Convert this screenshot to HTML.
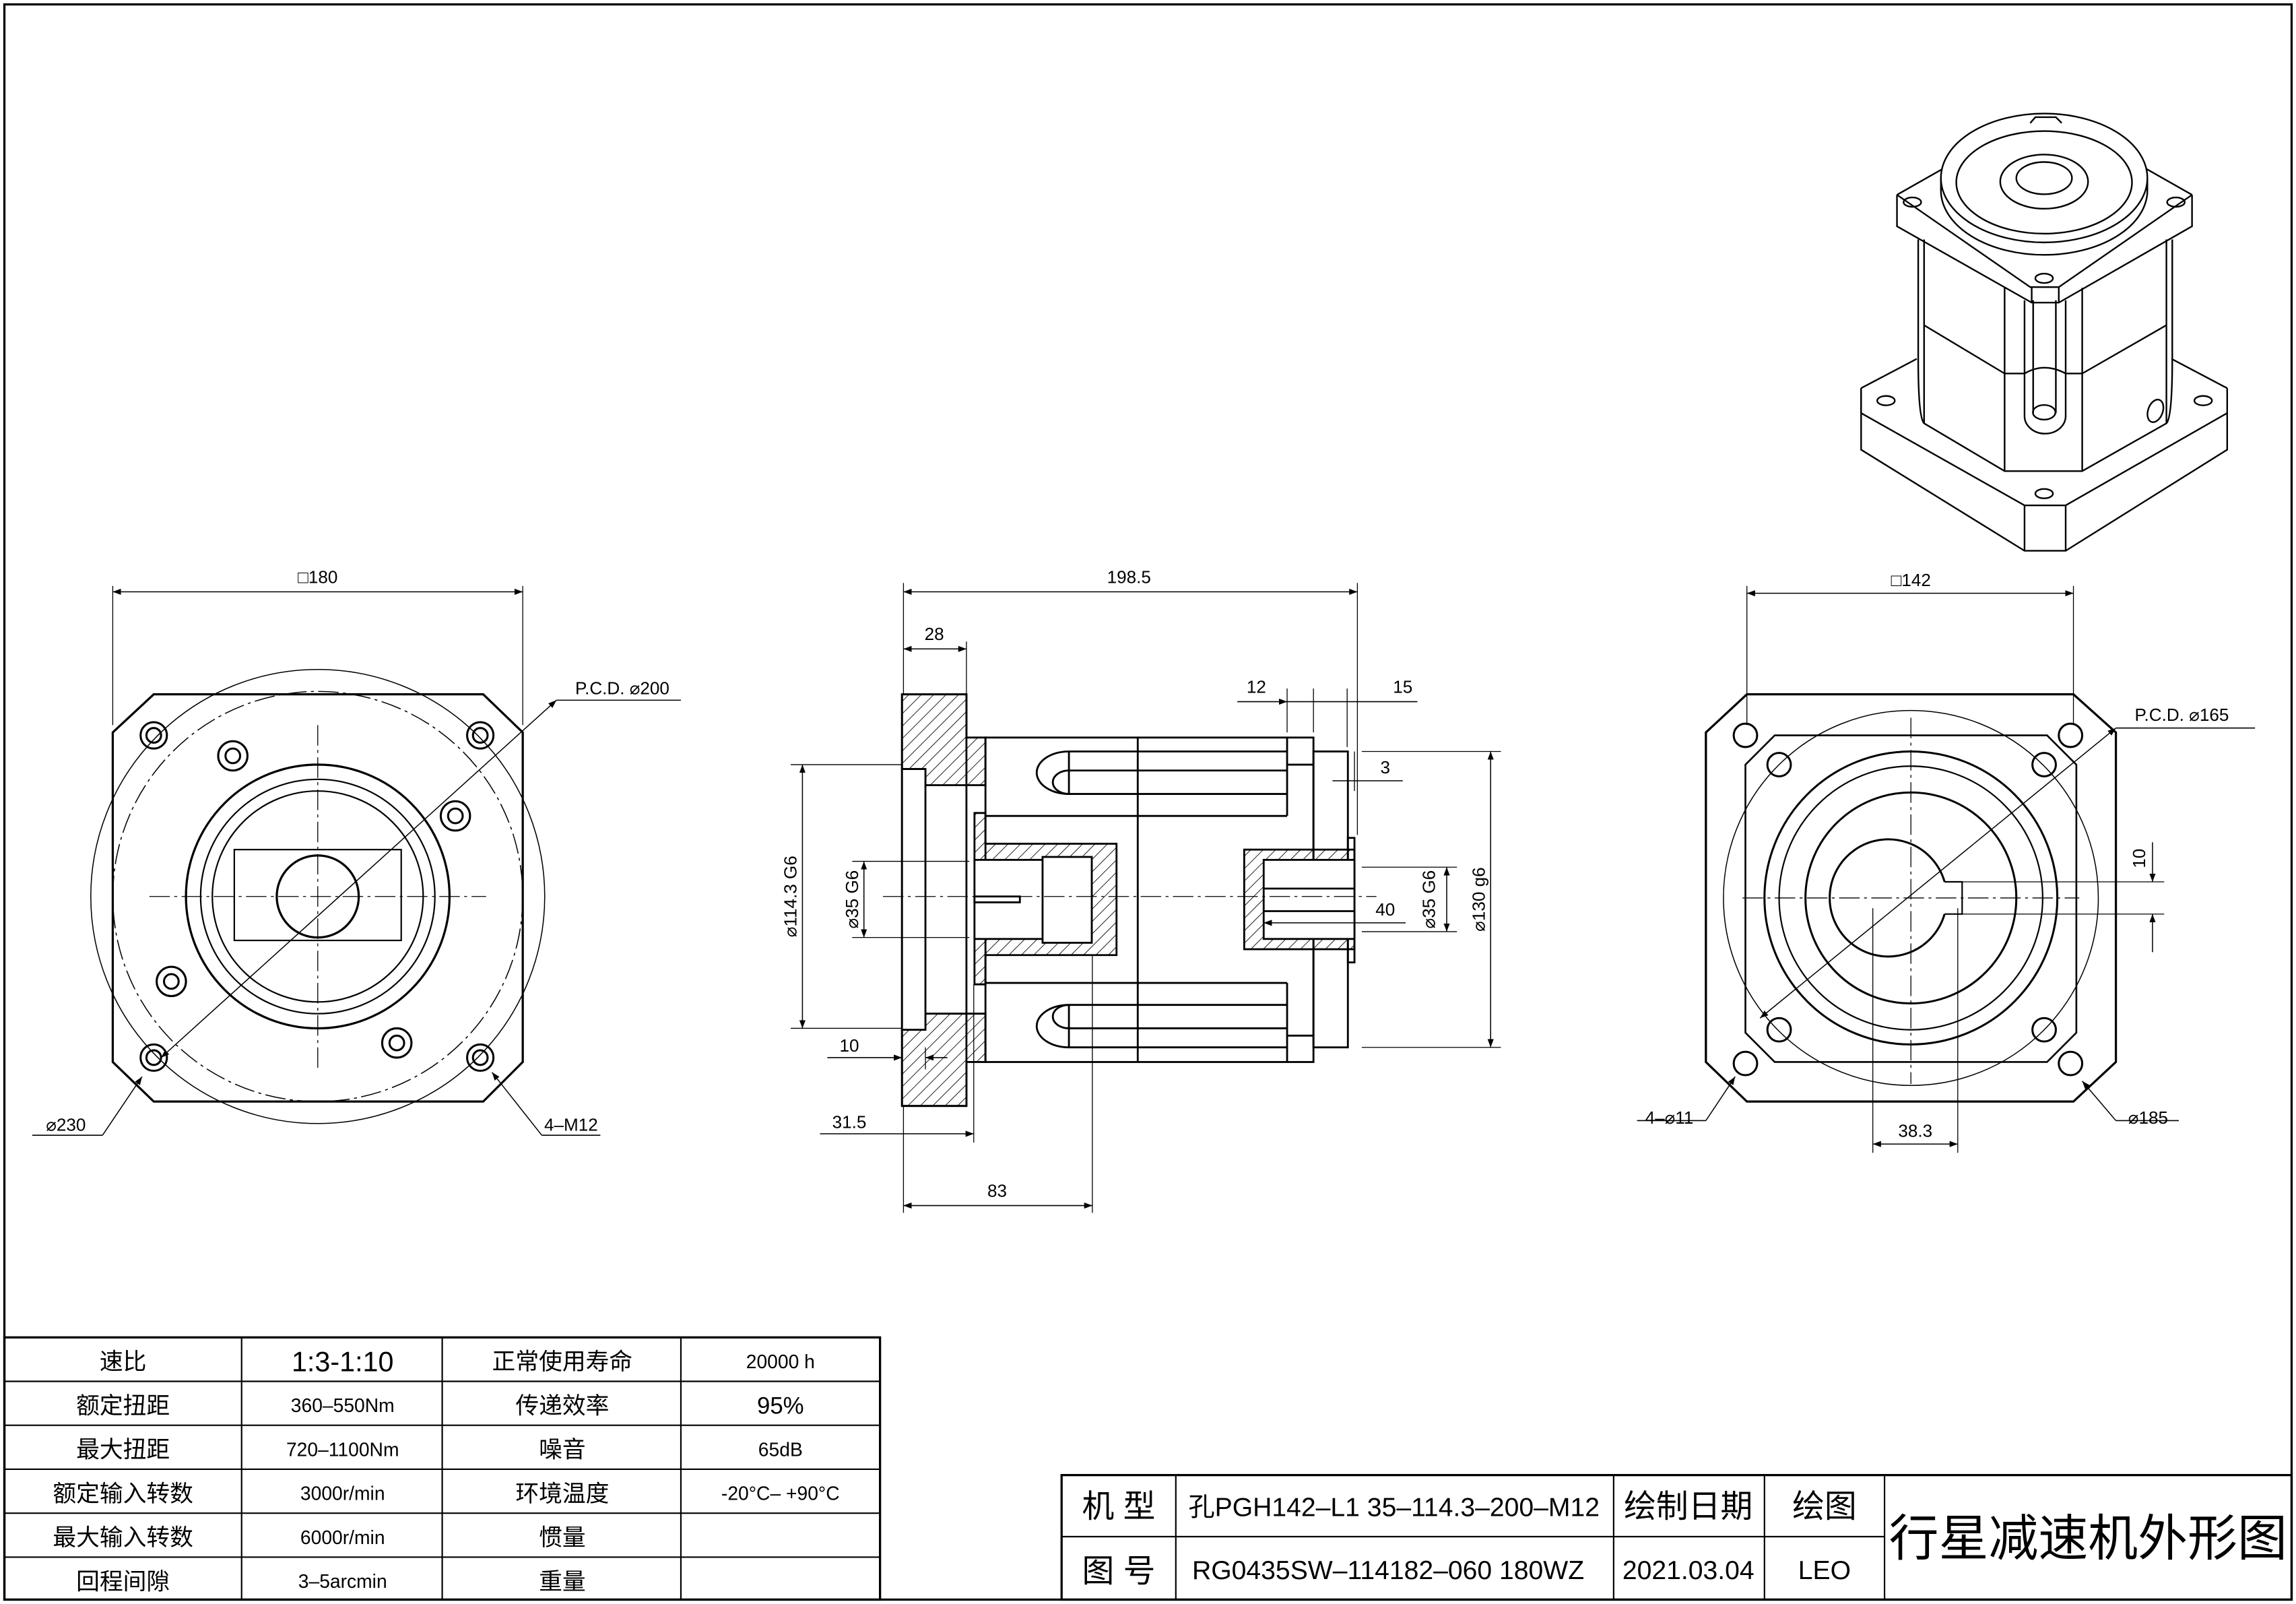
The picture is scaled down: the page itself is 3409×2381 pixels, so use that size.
<!DOCTYPE html>
<html><head><meta charset="utf-8"><style>
html,body{margin:0;padding:0;background:#fff}
svg{display:block}
text{font-family:"Liberation Sans","Noto Sans CJK SC",sans-serif;fill:#000}
</style></head><body>
<svg width="3409" height="2381" viewBox="0 0 1568 1095" preserveAspectRatio="none" xmlns="http://www.w3.org/2000/svg">
<defs>
<pattern id="h" width="6" height="6" patternUnits="userSpaceOnUse" patternTransform="rotate(45)">
<line x1="0" y1="0" x2="0" y2="6" stroke="#000" stroke-width="0.8"/></pattern>
<marker id="a" markerWidth="8" markerHeight="6" refX="8" refY="3" orient="auto-start-reverse"><path d="M0,0 L8,3 L0,6 z"/></marker>
</defs>
<g fill="none" stroke="#000" stroke-width="1">
<rect x="3" y="3" width="1562" height="1089" stroke-width="1.5"/>

<!-- LEFT VIEW -->
<path d="M105,474 H330 L357,500 V725 L330,752 H105 L77,725 V500 Z" stroke-width="1.5"/>
<circle cx="217" cy="612" r="155" stroke-width="0.7"/>
<circle cx="217" cy="612" r="140" stroke-width="0.7" stroke-dasharray="14,3,2,3"/>
<circle cx="217" cy="612" r="90" stroke-width="1.5"/>
<circle cx="217" cy="612" r="80"/>
<circle cx="217" cy="612" r="72"/>
<rect x="160" y="580" width="114" height="62"/>
<circle cx="217" cy="612" r="28" stroke-width="1.5"/>
<line x1="102" y1="612" x2="332" y2="612" stroke-width="0.6" stroke-dasharray="14,3,2,3"/>
<line x1="217" y1="495" x2="217" y2="730" stroke-width="0.6" stroke-dasharray="14,3,2,3"/>
<g stroke-width="1.4">
<circle cx="105" cy="502" r="9"/><circle cx="105" cy="502" r="5"/>
<circle cx="328" cy="502" r="9"/><circle cx="328" cy="502" r="5"/>
<circle cx="105" cy="722" r="9"/><circle cx="105" cy="722" r="5"/>
<circle cx="328" cy="722" r="9"/><circle cx="328" cy="722" r="5"/>
<circle cx="159" cy="516" r="10"/><circle cx="159" cy="516" r="5"/>
<circle cx="311" cy="557" r="10"/><circle cx="311" cy="557" r="5"/>
<circle cx="117" cy="670" r="10"/><circle cx="117" cy="670" r="5"/>
<circle cx="271" cy="712" r="10"/><circle cx="271" cy="712" r="5"/>
</g>
<line x1="77" y1="400" x2="77" y2="495" stroke-width="0.6"/>
<line x1="357" y1="400" x2="357" y2="495" stroke-width="0.6"/>
<line x1="77" y1="404" x2="357" y2="404" stroke-width="0.7" marker-start="url(#a)" marker-end="url(#a)"/>
<line x1="110" y1="722" x2="380" y2="478" stroke-width="0.7" marker-start="url(#a)" marker-end="url(#a)"/>
<line x1="380" y1="478" x2="465" y2="478" stroke-width="0.7"/>
<line x1="97" y1="735" x2="70" y2="775" stroke-width="0.7" marker-start="url(#a)"/>
<line x1="70" y1="775" x2="22" y2="775" stroke-width="0.7"/>
<line x1="336" y1="732" x2="370" y2="775" stroke-width="0.7" marker-start="url(#a)"/>
<line x1="370" y1="775" x2="410" y2="775" stroke-width="0.7"/>

<!-- MIDDLE VIEW -->
<g stroke-width="1.3">
<rect x="616" y="474" width="44" height="281"/>
<path d="M616,474 H660 V503.5 H673 V536 H632 V525 H616 Z" fill="url(#h)"/>
<path d="M616,755 H660 V725 H673 V692 H632 V703 H616 Z" fill="url(#h)"/>
<rect x="616" y="525" width="16" height="178" fill="#fff"/>
<rect x="673" y="503.5" width="224" height="221.5"/>
<line x1="777" y1="503.5" x2="777" y2="725"/>
<line x1="879" y1="503.5" x2="879" y2="557"/><line x1="673" y1="557" x2="879" y2="557"/>
<line x1="879" y1="671" x2="879" y2="725"/><line x1="673" y1="671" x2="879" y2="671"/>
<line x1="879" y1="522" x2="897" y2="522"/><line x1="879" y1="707" x2="897" y2="707"/>
<rect x="897" y="513" width="23.5" height="202"/>
<rect x="920.5" y="572" width="4.5" height="85"/>
<path d="M879,513 H730 A22,14.5 0 0 0 730,542 H879"/>
<path d="M879,526 H730 A11,8 0 0 0 730,542"/>
<line x1="730" y1="513" x2="730" y2="542"/>
<path d="M879,715 H730 A22,14.5 0 0 1 730,686 H879"/>
<path d="M879,702 H730 A11,8 0 0 1 730,686"/>
<line x1="730" y1="686" x2="730" y2="715"/>
<path d="M665.5,555 H673 V576 H762.5 V652 H673 V672 H665.5 Z" fill="url(#h)"/>
<rect x="665.5" y="587" width="80" height="54" fill="#fff"/>
<rect x="712" y="585" width="33.6" height="58.6" fill="#fff"/>
<rect x="665.5" y="612" width="31" height="4" fill="#fff"/>
<rect x="849.7" y="580" width="75.3" height="68" fill="url(#h)"/>
<rect x="863" y="587" width="62" height="54" fill="#fff"/>
<line x1="863" y1="606.6" x2="925" y2="606.6"/><line x1="863" y1="622" x2="925" y2="622"/>
</g>
<line x1="603" y1="612" x2="940" y2="612" stroke-width="0.6" stroke-dasharray="14,3,2,3"/>
<line x1="617" y1="398" x2="617" y2="474" stroke-width="0.6"/>
<line x1="927" y1="398" x2="927" y2="570" stroke-width="0.6"/>
<line x1="617" y1="404" x2="927" y2="404" stroke-width="0.7" marker-start="url(#a)" marker-end="url(#a)"/>
<line x1="660" y1="438" x2="660" y2="474" stroke-width="0.6"/>
<line x1="617" y1="443" x2="660" y2="443" stroke-width="0.7" marker-start="url(#a)" marker-end="url(#a)"/>
<line x1="540" y1="522" x2="616" y2="522" stroke-width="0.6"/>
<line x1="540" y1="702" x2="616" y2="702" stroke-width="0.6"/>
<line x1="548" y1="522" x2="548" y2="702" stroke-width="0.7" marker-start="url(#a)" marker-end="url(#a)"/>
<line x1="582" y1="588" x2="662" y2="588" stroke-width="0.6"/>
<line x1="582" y1="640" x2="662" y2="640" stroke-width="0.6"/>
<line x1="590" y1="588" x2="590" y2="640" stroke-width="0.7" marker-start="url(#a)" marker-end="url(#a)"/>
<line x1="930" y1="513" x2="1025" y2="513" stroke-width="0.6"/>
<line x1="930" y1="715" x2="1025" y2="715" stroke-width="0.6"/>
<line x1="1018" y1="513" x2="1018" y2="715" stroke-width="0.7" marker-start="url(#a)" marker-end="url(#a)"/>
<line x1="930" y1="592" x2="995" y2="592" stroke-width="0.6"/>
<line x1="930" y1="636" x2="995" y2="636" stroke-width="0.6"/>
<line x1="988" y1="592" x2="988" y2="636" stroke-width="0.7" marker-start="url(#a)" marker-end="url(#a)"/>
<line x1="863" y1="630" x2="960" y2="630" stroke-width="0.7" marker-start="url(#a)"/>
<line x1="879" y1="470" x2="879" y2="500" stroke-width="0.6"/>
<line x1="897" y1="470" x2="897" y2="500" stroke-width="0.6"/>
<line x1="920" y1="470" x2="920" y2="510" stroke-width="0.6"/>
<line x1="845" y1="479" x2="879" y2="479" stroke-width="0.7" marker-end="url(#a)"/>
<line x1="879" y1="479" x2="968" y2="479" stroke-width="0.7"/>
<line x1="910" y1="533" x2="958" y2="533" stroke-width="0.7"/>
<line x1="925" y1="513" x2="925" y2="540" stroke-width="0.6"/>
<line x1="565" y1="722" x2="616" y2="722" stroke-width="0.7" marker-end="url(#a)"/>
<line x1="632" y1="722" x2="647" y2="722" stroke-width="0.7" marker-start="url(#a)"/>
<line x1="632" y1="715" x2="632" y2="730" stroke-width="0.6"/>
<line x1="617" y1="755" x2="617" y2="828" stroke-width="0.6"/>
<line x1="665" y1="672" x2="665" y2="780" stroke-width="0.6"/>
<line x1="560" y1="774" x2="665" y2="774" stroke-width="0.7" marker-end="url(#a)"/>
<line x1="746" y1="652" x2="746" y2="828" stroke-width="0.6"/>
<line x1="617" y1="823" x2="746" y2="823" stroke-width="0.7" marker-start="url(#a)" marker-end="url(#a)"/>

<!-- RIGHT VIEW -->
<path d="M1193,474 H1416 L1445,500 V725 L1416,752 H1193 L1165,725 V500 Z" stroke-width="1.5"/>
<path d="M1212,502 H1398 L1418,522 V705 L1398,725 H1212 L1192,705 V522 Z" stroke-width="1.2"/>
<circle cx="1305" cy="613" r="128" stroke-width="0.7"/>
<circle cx="1305" cy="613" r="100" stroke-width="1.4"/>
<circle cx="1305" cy="613" r="90"/>
<circle cx="1305" cy="613" r="72" stroke-width="1.4"/>
<path d="M1328,602 A40,40 0 1 0 1328,624" stroke-width="1.4"/>
<path d="M1328,602 H1340 V624 H1328"/>
<line x1="1190" y1="613" x2="1420" y2="613" stroke-width="0.6" stroke-dasharray="14,3,2,3"/>
<line x1="1305" y1="490" x2="1305" y2="740" stroke-width="0.6" stroke-dasharray="14,3,2,3"/>
<g stroke-width="1.4">
<circle cx="1192" cy="502" r="8"/><circle cx="1414" cy="502" r="8"/>
<circle cx="1192" cy="726" r="8"/><circle cx="1414" cy="726" r="8"/>
<circle cx="1215" cy="522" r="8"/><circle cx="1396" cy="522" r="8"/>
<circle cx="1215" cy="703" r="8"/><circle cx="1396" cy="703" r="8"/>
</g>
<line x1="1193" y1="400" x2="1193" y2="495" stroke-width="0.6"/>
<line x1="1416" y1="400" x2="1416" y2="495" stroke-width="0.6"/>
<line x1="1193" y1="405" x2="1416" y2="405" stroke-width="0.7" marker-start="url(#a)" marker-end="url(#a)"/>
<line x1="1202" y1="695" x2="1445" y2="497" stroke-width="0.7" marker-start="url(#a)" marker-end="url(#a)"/>
<line x1="1445" y1="497" x2="1540" y2="497" stroke-width="0.7"/>
<line x1="1185" y1="735" x2="1165" y2="765" stroke-width="0.7" marker-start="url(#a)"/>
<line x1="1165" y1="765" x2="1118" y2="765" stroke-width="0.7"/>
<line x1="1422" y1="738" x2="1445" y2="765" stroke-width="0.7" marker-start="url(#a)"/>
<line x1="1445" y1="765" x2="1488" y2="765" stroke-width="0.7"/>
<line x1="1279" y1="620" x2="1279" y2="787" stroke-width="0.6"/>
<line x1="1337" y1="620" x2="1337" y2="787" stroke-width="0.6"/>
<line x1="1279" y1="781" x2="1337" y2="781" stroke-width="0.7" marker-start="url(#a)" marker-end="url(#a)"/>
<line x1="1340" y1="602" x2="1478" y2="602" stroke-width="0.6"/>
<line x1="1340" y1="624" x2="1478" y2="624" stroke-width="0.6"/>
<line x1="1470" y1="575" x2="1470" y2="602" stroke-width="0.7" marker-end="url(#a)"/>
<line x1="1470" y1="650" x2="1470" y2="624" stroke-width="0.7" marker-end="url(#a)"/>

<!-- ISO VIEW -->
<g stroke-width="1.1">
<!-- base -->
<path d="M1271,265 L1309,245 M1521,265 L1483,245"/>
<path d="M1271,265 V307 L1382.6,376 H1410.7 L1521,307 V265"/>
<path d="M1271,282 L1382.6,345 H1410.7 L1521,282"/>
<line x1="1382.6" y1="345" x2="1382.6" y2="376"/><line x1="1410.7" y1="345" x2="1410.7" y2="376"/>
<line x1="1271" y1="265" x2="1271" y2="282"/>
<ellipse cx="1288" cy="273.5" rx="6" ry="3.2"/><ellipse cx="1504.6" cy="273.5" rx="6" ry="3.2"/>
<ellipse cx="1396" cy="337" rx="6" ry="3.2"/>
<!-- body -->
<path d="M1310,163.5 V245 Q1310,285 1314,289 L1369,321.6 H1422 L1479.5,289 Q1483.5,285 1483.5,245 V163.5"/>
<path d="M1314,163.5 V289 M1479.5,163.5 V289"/>
<path d="M1314,222 L1369,255 H1382.6 Q1396,247 1410.7,255 H1422 L1479.5,222"/>
<path d="M1369,196.5 V321.6 M1422,196.5 V321.6"/>
<path d="M1382.6,205 V284 A14,12 0 0 0 1410.7,284 V205"/>
<path d="M1388.5,205 V282 M1404,205 V282"/>
<ellipse cx="1396" cy="281.5" rx="7.7" ry="5"/>
<ellipse cx="1472" cy="280.5" rx="5" ry="8" transform="rotate(20 1472 280.5)"/>
<!-- top flange -->
<path d="M1295.5,133 L1326.5,115.4 M1497,133 L1466,115.4"/>
<path d="M1295.5,133 V154.5 L1387.5,206.6 H1406 L1497,154.5 V133"/>
<path d="M1295.5,133 L1386.5,196 H1406 L1497,133"/>
<line x1="1387.5" y1="196" x2="1387.5" y2="206.6"/><line x1="1406" y1="196" x2="1406" y2="206.6"/>
<ellipse cx="1306" cy="138" rx="6" ry="3.2"/><ellipse cx="1486" cy="138" rx="6" ry="3.2"/>
<ellipse cx="1396" cy="190" rx="6" ry="3.2"/>
<!-- top disc -->
<path d="M1325.5,121.5 V130 A70.5,44 0 0 0 1466.5,130 V121.5" fill="#fff"/>
<ellipse cx="1396" cy="121.5" rx="70.5" ry="44" fill="#fff"/>
<ellipse cx="1396" cy="124.5" rx="60" ry="35"/>
<ellipse cx="1396" cy="124" rx="30" ry="18.5"/>
<ellipse cx="1396" cy="121.6" rx="19" ry="11"/>
<path d="M1386.5,84 L1390,80 H1404 L1408,84"/>
</g>

<!-- TABLE -->
<rect x="3" y="913" width="598" height="179" stroke-width="1.5"/>
<g stroke-width="1">
<line x1="3" y1="943" x2="601" y2="943"/><line x1="3" y1="973" x2="601" y2="973"/>
<line x1="3" y1="1003" x2="601" y2="1003"/><line x1="3" y1="1033" x2="601" y2="1033"/>
<line x1="3" y1="1063" x2="601" y2="1063"/>
<line x1="165" y1="913" x2="165" y2="1092"/><line x1="302" y1="913" x2="302" y2="1092"/>
<line x1="465" y1="913" x2="465" y2="1092"/>
</g>
<!-- TITLE BLOCK -->
<rect x="725" y="1007" width="840" height="85" stroke-width="1.5"/>
<line x1="725" y1="1049" x2="1287" y2="1049"/>
<line x1="803" y1="1007" x2="803" y2="1092"/><line x1="1102" y1="1007" x2="1102" y2="1092"/>
<line x1="1205" y1="1007" x2="1205" y2="1092"/><line x1="1287" y1="1007" x2="1287" y2="1092"/>
</g>

<g font-size="12" text-anchor="middle">
<text x="217" y="398">□180</text>
<text x="425" y="474">P.C.D. ⌀200</text>
<text x="45" y="772">⌀230</text>
<text x="390" y="772">4–M12</text>
<text x="771" y="398">198.5</text>
<text x="638" y="437">28</text>
<text x="858" y="473">12</text>
<text x="958" y="473">15</text>
<text x="946" y="528">3</text>
<text x="946" y="625">40</text>
<text x="580" y="718">10</text>
<text x="580" y="770">31.5</text>
<text x="681" y="817">83</text>
<text transform="translate(544,612) rotate(-90)">⌀114.3 G6</text>
<text transform="translate(586,614) rotate(-90)">⌀35 G6</text>
<text transform="translate(980,614) rotate(-90)">⌀35 G6</text>
<text transform="translate(1014,614) rotate(-90)">⌀130 g6</text>
<text x="1305" y="400">□142</text>
<text x="1490" y="492">P.C.D. ⌀165</text>
<text x="1140" y="767">4–⌀11</text>
<text x="1467" y="767">⌀185</text>
<text x="1308" y="776">38.3</text>
<text transform="translate(1465,586) rotate(-90)">10</text>
</g>
<g font-size="16" text-anchor="middle">
<text x="84" y="935">速比</text><text x="234" y="936" font-size="19">1:3-1:10</text>
<text x="384" y="935">正常使用寿命</text><text x="533" y="934" font-size="13">20000 h</text>
<text x="84" y="965">额定扭距</text><text x="234" y="964" font-size="13">360–550Nm</text>
<text x="384" y="965">传递效率</text><text x="533" y="965">95%</text>
<text x="84" y="995">最大扭距</text><text x="234" y="994" font-size="13">720–1100Nm</text>
<text x="384" y="995">噪音</text><text x="533" y="994" font-size="13">65dB</text>
<text x="84" y="1025">额定输入转数</text><text x="234" y="1024" font-size="13">3000r/min</text>
<text x="384" y="1025">环境温度</text><text x="533" y="1024" font-size="13">-20°C– +90°C</text>
<text x="84" y="1055">最大输入转数</text><text x="234" y="1054" font-size="13">6000r/min</text>
<text x="384" y="1055">惯量</text>
<text x="84" y="1085">回程间隙</text><text x="234" y="1084" font-size="13">3–5arcmin</text>
<text x="384" y="1085">重量</text>
<text x="764" y="1036" font-size="22">机 型</text>
<text x="952" y="1035" font-size="18">孔PGH142–L1 35–114.3–200–M12</text>
<text x="1153" y="1036" font-size="22">绘制日期</text>
<text x="1246" y="1036" font-size="22">绘图</text>
<text x="764" y="1080" font-size="22">图 号</text>
<text x="948" y="1078" font-size="18">RG0435SW–114182–060 180WZ</text>
<text x="1153" y="1078" font-size="18">2021.03.04</text>
<text x="1246" y="1078" font-size="18">LEO</text>
<text x="1426" y="1062" font-size="34">行星减速机外形图</text>
</g>
</svg>
</body></html>
